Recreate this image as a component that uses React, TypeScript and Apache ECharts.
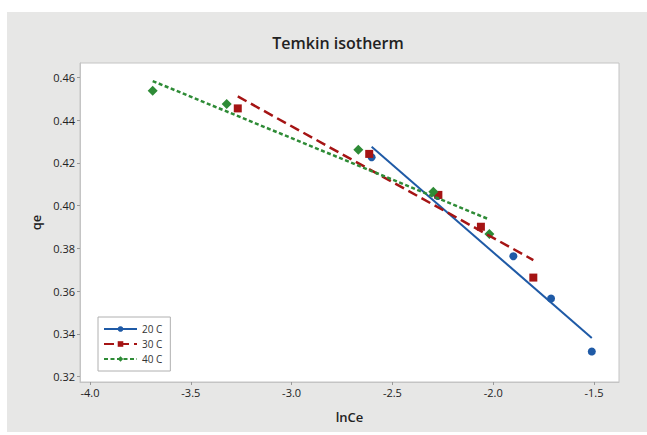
import React, { useEffect, useRef } from "react";
import * as echarts from "echarts";

const seriesNames = ["20 C", "30 C", "40 C"];

const lnCe20 = [-2.603, -2.275, -1.9, -1.713, -1.511];
const qe20 = [0.4226, 0.4045, 0.3763, 0.3565, 0.3317];
const lnCe30 = [-3.267, -2.615, -2.272, -2.061, -1.801];
const qe30 = [0.4455, 0.4242, 0.405, 0.3901, 0.3663];
const lnCe40 = [-3.689, -3.322, -2.669, -2.297, -2.019];
const qe40 = [0.4538, 0.4475, 0.4261, 0.4065, 0.3867];

const fitX20 = [-2.603, -1.511];
const fitY20 = [0.4276, 0.338];
const fitX30 = [-3.267, -1.801];
const fitY30 = [0.4511, 0.3745];
const fitX40 = [-3.689, -2.019];
const fitY40 = [0.4583, 0.3935];

const xTicks = [-4.0, -3.5, -3.0, -2.5, -2.0, -1.5];
const yTicks = [0.32, 0.34, 0.36, 0.38, 0.4, 0.42, 0.44, 0.46];

const colors = ["#1f5aa6", "#a51414", "#2e8b36"];
const symbols = ["circle", "rect", "diamond"];
const symbolSizes = [8, 8, 10];
const lineTypes: any[] = ["solid", [10, 5], [4, 2.5]];
const lineWidths = [2, 2.5, 2.5];

const zip = (xs: number[], ys: number[]) => xs.map((x, i) => [x, ys[i]]);

export default function App() {
  const ref = useRef<HTMLDivElement>(null);
  useEffect(() => {
    if (!ref.current) return;
    const chart = echarts.init(ref.current, null, { renderer: "svg" });
    const font = "'Open Sans', 'Noto Sans', sans-serif";
    const pts = [zip(lnCe20, qe20), zip(lnCe30, qe30), zip(lnCe40, qe40)];
    const fits = [zip(fitX20, fitY20), zip(fitX30, fitY30), zip(fitX40, fitY40)];
    const lineSeries = seriesNames.map((n, i) => ({
      name: n,
      type: "line",
      data: fits[i],
      symbol: symbols[i],
      symbolSize: 7,
      showSymbol: false,
      itemStyle: { color: colors[i] },
      lineStyle: { color: colors[i], width: lineWidths[i], type: lineTypes[i] },
      z: 3,
      silent: true,
    }));
    const scatterSeries = seriesNames.map((n, i) => ({
      name: n + " data",
      type: "scatter",
      data: pts[i],
      symbol: symbols[i],
      symbolSize: symbolSizes[i],
      itemStyle: { color: colors[i], opacity: 1 },
      z: 2,
    }));
    chart.setOption({
      animation: false,
      backgroundColor: "transparent",
      textStyle: { fontFamily: font },
      graphic: [
        {
          type: "text",
          x: 338,
          y: 43,
          style: {
            text: "Temkin isotherm",
            fontSize: 16,
            fontFamily: font,
            fontWeight: 600,
            fill: "#222",
            align: "center",
            verticalAlign: "middle",
          },
        },
      ],
      grid: {
        left: 80,
        right: 28,
        top: 63,
        bottom: 53,
        show: true,
        backgroundColor: "#ffffff",
        borderColor: "#c4c4c4",
        borderWidth: 1,
      },
      legend: {
        data: seriesNames,
        orient: "vertical",
        left: 98,
        top: 317,
        padding: [6, 8, 6, 5],
        itemGap: 3,
        itemWidth: 33,
        itemHeight: 7,
        backgroundColor: "#fff",
        borderColor: "#b0b0b0",
        borderWidth: 1,
        textStyle: { fontSize: 10, color: "#333", fontFamily: font, lineHeight: 12 },
      },
      xAxis: {
        type: "value",
        min: -4.0496,
        max: -1.376,
        name: "lnCe",
        nameLocation: "middle",
        nameGap: 28,
        nameTextStyle: { fontSize: 13, color: "#222", fontWeight: 600 },
        axisLine: { show: true, onZero: false, lineStyle: { color: "#c4c4c4" } },
        axisTick: { show: true, length: 3, customValues: xTicks, lineStyle: { color: "#999" } },
        axisLabel: {
          customValues: xTicks,
          formatter: (v: number) => v.toFixed(1),
          fontSize: 11,
          color: "#222",
          margin: 5,
        },
        splitLine: { show: false },
      },
      yAxis: {
        type: "value",
        min: 0.31742,
        max: 0.46675,
        name: "qe",
        nameLocation: "middle",
        nameGap: 38,
        nameTextStyle: { fontSize: 13, color: "#222", fontWeight: 600 },
        axisLine: { show: true, onZero: false, lineStyle: { color: "#c4c4c4" } },
        axisTick: { show: true, length: 3, customValues: yTicks, lineStyle: { color: "#999" } },
        axisLabel: {
          customValues: yTicks,
          formatter: (v: number) => v.toFixed(2),
          fontSize: 11,
          color: "#222",
          margin: 5,
        },
        splitLine: { show: false },
      },
      series: [...scatterSeries, ...lineSeries],
    });
    return () => chart.dispose();
  }, []);
  return (
    <div style={{ position: "fixed", left: 0, top: 0, width: 647, height: 435, background: "#fff" }}>
      <div style={{ position: "absolute", left: 7, top: 12, width: 640, height: 420, background: "#e7e7e6" }} />
      <div ref={ref} style={{ position: "absolute", left: 0, top: 0, width: 647, height: 435 }} />
    </div>
  );
}
